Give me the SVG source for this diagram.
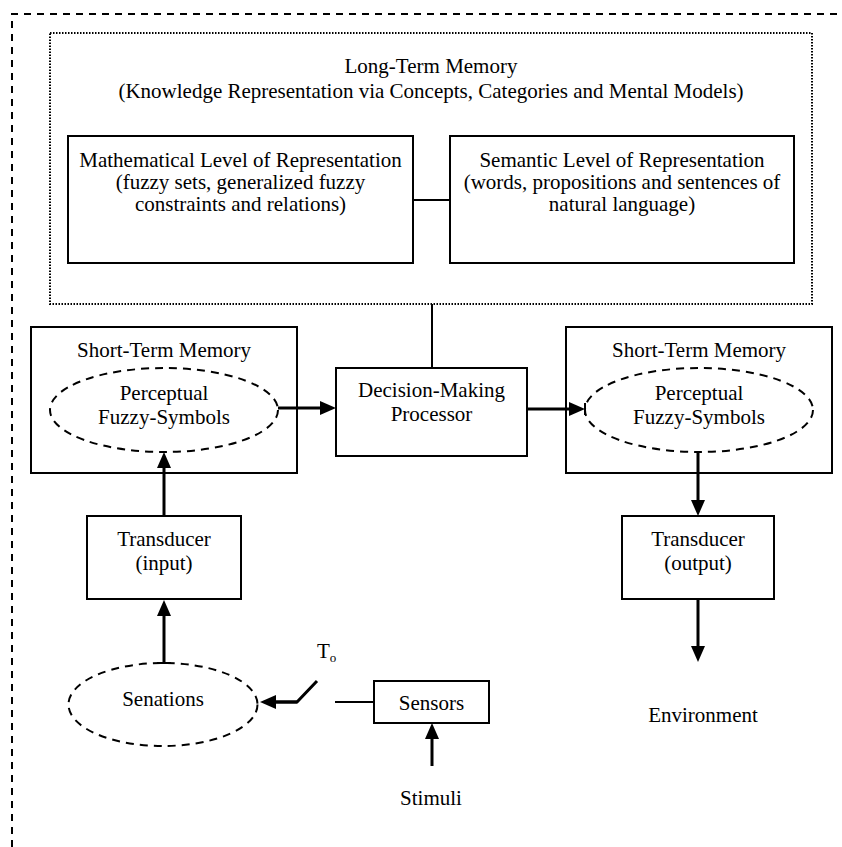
<svg xmlns="http://www.w3.org/2000/svg" width="842" height="847" viewBox="0 0 842 847">
<style>
text{font-family:"Liberation Serif","Times New Roman",serif;font-size:21px;fill:#000;text-anchor:middle}
.box{fill:#fff;stroke:#000;stroke-width:2}
.ell{fill:none;stroke:#000;stroke-width:2;stroke-dasharray:8 6}
.dot{fill:none;stroke:#000;stroke-width:2;stroke-dasharray:1.5 1.5}
.frame{fill:none;stroke:#000;stroke-width:2;stroke-dasharray:7 6}
.ln{fill:none;stroke:#000;stroke-width:2}
.arr{fill:none;stroke:#000;stroke-width:3;marker-end:url(#ah)}
.th{fill:none;stroke:#000;stroke-width:3}
</style>
<defs>
<marker id="ah" markerUnits="userSpaceOnUse" markerWidth="16" markerHeight="14" refX="4" refY="7" orient="auto">
<path d="M0,0 L16,7 L0,14 z" fill="#000"/>
</marker>
</defs>
<path class="frame" d="M12,847 L12,14 L842,14"/>
<g id="ltm">
<rect class="dot" x="50" y="33" width="762" height="271"/>
<text x="431" y="73">Long-Term Memory</text>
<text x="431" y="98">(Knowledge Representation via Concepts, Categories and Mental Models)</text>
</g>
<g id="math">
<rect class="box" x="68" y="136" width="345" height="127"/>
<text x="240.5" y="167">Mathematical Level of Representation</text>
<text x="240.5" y="189">(fuzzy sets, generalized fuzzy</text>
<text x="240.5" y="211">constraints and relations)</text>
</g>
<g id="semantic">
<rect class="box" x="450" y="136" width="344" height="127"/>
<text x="622" y="167">Semantic Level of Representation</text>
<text x="622" y="189">(words, propositions and sentences of</text>
<text x="622" y="211">natural language)</text>
</g>
<g id="stm-in">
<rect class="box" x="31" y="327" width="266" height="146"/>
<text x="164" y="357">Short-Term Memory</text>
</g>
<g id="pfs-in">
<ellipse class="ell" cx="164" cy="410" rx="114" ry="42"/>
<text x="164" y="400">Perceptual</text>
<text x="164" y="424">Fuzzy-Symbols</text>
</g>
<g id="dmp">
<rect class="box" x="336" y="368" width="191" height="88"/>
<text x="431.5" y="397">Decision-Making</text>
<text x="431.5" y="421">Processor</text>
</g>
<g id="stm-out">
<rect class="box" x="566" y="327" width="266" height="146"/>
<text x="699" y="357">Short-Term Memory</text>
</g>
<g id="pfs-out">
<ellipse class="ell" cx="699" cy="410" rx="114" ry="42"/>
<text x="699" y="400">Perceptual</text>
<text x="699" y="424">Fuzzy-Symbols</text>
</g>
<g id="trans-in">
<rect class="box" x="87" y="516" width="154" height="83"/>
<text x="164" y="546">Transducer</text>
<text x="164" y="570">(input)</text>
</g>
<g id="trans-out">
<rect class="box" x="622" y="516" width="152" height="83"/>
<text x="698" y="546">Transducer</text>
<text x="698" y="570">(output)</text>
</g>
<g id="senations">
<ellipse class="ell" cx="163" cy="704.5" rx="94.5" ry="41.5"/>
<text x="163" y="706">Senations</text>
</g>
<g id="sensors">
<rect class="box" x="374" y="681" width="115" height="42"/>
<text x="431.5" y="710">Sensors</text>
</g>
<g id="labels">
<text x="703" y="722">Environment</text>
<text x="431" y="805">Stimuli</text>
<text x="317" y="658" style="text-anchor:start">T<tspan font-size="13" dy="4">o</tspan></text>
</g>
<g id="connectors">
<line class="ln" x1="413" y1="200" x2="450" y2="200"/>
<line class="ln" x1="432" y1="304" x2="432" y2="368"/>
<line class="arr" x1="278" y1="408" x2="324" y2="408"/>
<line class="arr" x1="527" y1="409" x2="573" y2="409"/>
<line class="ln" x1="585" y1="403" x2="585" y2="415"/>
<line class="arr" x1="164" y1="516" x2="164" y2="464"/>
<line class="arr" x1="698" y1="452" x2="698" y2="504"/>
<line class="arr" x1="698" y1="599" x2="698" y2="650"/>
<line class="arr" x1="164" y1="663" x2="164" y2="612"/>
<line class="ln" x1="157" y1="663" x2="171" y2="663"/>
<polyline class="th" points="317,681 297,702 272,702"/>
<line class="arr" x1="297" y1="702" x2="272" y2="702"/>
<line class="ln" x1="335" y1="702" x2="374" y2="702"/>
<line class="arr" x1="432" y1="766" x2="432" y2="735"/>
</g>
</svg>
